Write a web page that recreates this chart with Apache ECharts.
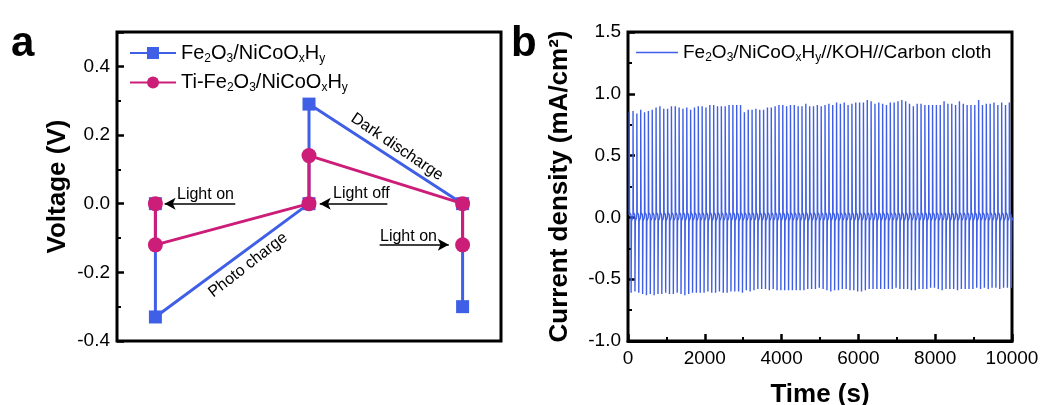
<!DOCTYPE html>
<html>
<head>
<meta charset="utf-8">
<title>photo charge / current density</title>
<script src="https://cdn.jsdelivr.net/npm/echarts@6/dist/echarts.min.js"></script>
<style>
  html, body { margin: 0; padding: 0; background: #fff; }
  #chart { width: 1041px; height: 405px; }
</style>
</head>
<body>
<div id="chart"></div>
<script>
// ---- panel a : voltage at each light step ----
const stepX = [1, 1, 2, 2, 3, 3]   // 1 = light on, 2 = light off, 3 = light on again
const fe2o3Voltage = [0.00, -0.33, 0.00, 0.29, 0.00, -0.30]
const tiFe2o3Voltage = [0.00, -0.12, 0.00, 0.14, 0.00, -0.12]
const voltageTicks = [-0.4, -0.2, 0.0, 0.2, 0.4]
const voltageMax = 0.5

// ---- panel b : peak current of every on/off cycle ----
const cyclePeriod = 100
const peakOn = [
  0.85, 0.86, 0.84, 0.87, 0.85, 0.86, 0.87, 0.89, 0.90, 0.88,
  0.88, 0.90, 0.90, 0.89, 0.88, 0.89, 0.87, 0.89, 0.90, 0.90,
  0.89, 0.91, 0.91, 0.90, 0.90, 0.90, 0.91, 0.91, 0.91, 0.91,
  0.85, 0.87, 0.87, 0.88, 0.87, 0.87, 0.89, 0.89, 0.90, 0.91,
  0.91, 0.90, 0.91, 0.91, 0.90, 0.90, 0.92, 0.90, 0.90, 0.91,
  0.90, 0.91, 0.92, 0.91, 0.93, 0.92, 0.93, 0.91, 0.92, 0.93,
  0.93, 0.93, 0.95, 0.94, 0.92, 0.93, 0.92, 0.91, 0.93, 0.93,
  0.94, 0.95, 0.94, 0.92, 0.90, 0.92, 0.92, 0.91, 0.91, 0.91,
  0.91, 0.91, 0.94, 0.92, 0.92, 0.91, 0.94, 0.92, 0.91, 0.91,
  0.91, 0.95, 0.91, 0.92, 0.92, 0.93, 0.91, 0.93, 0.91, 0.93
]
const peakOff = [
  -0.61, -0.60, -0.61, -0.62, -0.63, -0.62, -0.63, -0.62, -0.62, -0.61,
  -0.62, -0.62, -0.61, -0.62, -0.63, -0.62, -0.61, -0.61, -0.61, -0.61,
  -0.60, -0.61, -0.61, -0.60, -0.61, -0.61, -0.60, -0.60, -0.60, -0.61,
  -0.59, -0.60, -0.59, -0.58, -0.58, -0.58, -0.59, -0.58, -0.59, -0.59,
  -0.59, -0.59, -0.59, -0.59, -0.59, -0.59, -0.58, -0.58, -0.58, -0.57,
  -0.58, -0.59, -0.60, -0.59, -0.59, -0.58, -0.58, -0.59, -0.59, -0.60,
  -0.60, -0.59, -0.58, -0.58, -0.58, -0.58, -0.58, -0.58, -0.58, -0.57,
  -0.58, -0.58, -0.58, -0.59, -0.59, -0.58, -0.58, -0.58, -0.57, -0.57,
  -0.58, -0.59, -0.58, -0.58, -0.58, -0.59, -0.58, -0.58, -0.58, -0.58,
  -0.57, -0.58, -0.57, -0.58, -0.57, -0.57, -0.58, -0.57, -0.57, -0.57
]
const timeTicks = [0, 2000, 4000, 6000, 8000, 10000]
const currentTicks = [-1.0, -0.5, 0.0, 0.5, 1.0, 1.5]

const FONT = 'Arial, "Liberation Sans", sans-serif'
const BLUE = '#3f5fe6'
const PINK = '#cc1e78'

// each cycle: light on spike, decay, light off spike, decay
function buildCurrent () {
  const pts = []
  peakOn.forEach((on, i) => {
    const t = i * cyclePeriod + 30
    pts.push([t, 0.02], [t + 1, on], [t + 10, 0.04], [t + 45, 0.02])
    pts.push([t + 50, 0.0], [t + 51, peakOff[i]], [t + 60, -0.03], [t + 95, 0.0])
  })
  return pts
}

function sub (name) {
  return name.replace('Fe2O3', 'Fe{sub|2}O{sub|3}').replace('NiCoOxHy', 'NiCoO{sub|x}H{sub|y}')
}

const richSub = {
  sub: { fontSize: 12, fontFamily: FONT, padding: [11, 0, 0, 0] }
}

const chart = echarts.init(document.getElementById('chart'))

const tickLabel = () => ({ fontSize: 19, color: '#000', fontFamily: FONT })
const axisName = () => ({ fontSize: 26, fontWeight: 'bold', color: '#000', fontFamily: FONT })
const tickStyle = () => ({ show: true, inside: true, length: 7, lineStyle: { color: '#000', width: 2.5 } })
const minorStyle = () => ({ show: true, splitNumber: 2, length: 4, lineStyle: { color: '#000', width: 2 } })

chart.setOption({
  animation: false,
  textStyle: { fontFamily: FONT },
  grid: [
    { left: 117, top: 32, width: 384, height: 309, outerBoundsMode: 'none', show: true, borderColor: '#000', borderWidth: 3 },
    { left: 628, top: 32, width: 384, height: 309, outerBoundsMode: 'none', show: true, borderColor: '#000', borderWidth: 3 }
  ],
  legend: [
    {
      data: ['Fe2O3/NiCoOxHy', 'Ti-Fe2O3/NiCoOxHy'],
      orient: 'vertical', left: 124, top: 38, itemWidth: 46, itemHeight: 15, itemGap: 8,
      formatter: sub,
      textStyle: { fontSize: 20, color: '#000', fontFamily: FONT, rich: richSub }
    },
    {
      data: ['Fe2O3/NiCoOxHy//KOH//Carbon cloth'],
      left: 631, top: 38, itemWidth: 42, itemHeight: 1.5, icon: 'rect',
      formatter: sub,
      textStyle: { fontSize: 19, color: '#000', fontFamily: FONT, rich: richSub }
    }
  ],
  xAxis: [
    {
      gridIndex: 0, type: 'value', min: 0.75, max: 3.25,
      axisLine: { show: false }, axisTick: { show: false }, axisLabel: { show: false }, splitLine: { show: false }
    },
    {
      gridIndex: 1, type: 'value', position: 'bottom', min: timeTicks[0], max: timeTicks[timeTicks.length - 1], interval: 2000,
      name: 'Time (s)', nameLocation: 'middle', nameGap: 41, nameTextStyle: axisName(),
      axisLine: { show: true, onZero: false, lineStyle: { color: '#000', width: 3 } },
      axisTick: tickStyle(),
      minorTick: minorStyle(),
      axisLabel: Object.assign({ margin: 8, formatter: v => String(v) }, tickLabel()),
      splitLine: { show: false }
    }
  ],
  yAxis: [
    {
      gridIndex: 0, type: 'value', min: voltageTicks[0], max: voltageMax, interval: 0.2,
      name: 'Voltage (V)', nameLocation: 'middle', nameGap: 46, nameTextStyle: axisName(),
      axisLine: { show: false },
      axisTick: tickStyle(),
      minorTick: minorStyle(),
      axisLabel: Object.assign({ margin: 7, showMaxLabel: false, formatter: v => v.toFixed(1) }, tickLabel()),
      splitLine: { show: false }
    },
    {
      gridIndex: 1, type: 'value', min: currentTicks[0], max: currentTicks[currentTicks.length - 1], interval: 0.5,
      name: 'Current density (mA/cm²)', nameLocation: 'middle', nameGap: 55, nameTextStyle: axisName(),
      axisLine: { show: false },
      axisTick: tickStyle(),
      minorTick: minorStyle(),
      axisLabel: Object.assign({ margin: 7, formatter: v => v.toFixed(1) }, tickLabel()),
      splitLine: { show: false }
    }
  ],
  series: [
    {
      name: 'Fe2O3/NiCoOxHy', type: 'line', xAxisIndex: 0, yAxisIndex: 0,
      data: stepX.map((x, i) => [x, fe2o3Voltage[i]]),
      symbol: 'rect', symbolSize: 13, color: BLUE,
      lineStyle: { width: 3, color: BLUE }, itemStyle: { color: BLUE }
    },
    {
      name: 'Ti-Fe2O3/NiCoOxHy', type: 'line', xAxisIndex: 0, yAxisIndex: 0,
      data: stepX.map((x, i) => [x, tiFe2o3Voltage[i]]),
      symbol: 'circle', symbolSize: 15, color: PINK,
      lineStyle: { width: 3, color: PINK }, itemStyle: { color: PINK },
      markLine: {
        silent: true, symbol: ['none', 'arrow'], symbolSize: [9, 11],
        lineStyle: { color: '#000', width: 1.5, type: 'solid' },
        label: { show: false },
        data: [
          [{ coord: [1.52, 0] }, { coord: [1.06, 0] }],
          [{ coord: [2.51, 0] }, { coord: [2.07, 0] }],
          [{ coord: [2.46, -0.12] }, { coord: [2.91, -0.12] }]
        ]
      }
    },
    {
      name: 'Fe2O3/NiCoOxHy//KOH//Carbon cloth', type: 'line', xAxisIndex: 1, yAxisIndex: 1,
      data: buildCurrent(),
      symbol: 'none', color: BLUE,
      lineStyle: { width: 1.4, color: BLUE }
    }
  ],
  graphic: [
    { type: 'text', left: 11, top: 23, style: { text: 'a', font: 'bold 42px ' + FONT, fill: '#000' } },
    { type: 'text', left: 511, top: 23, style: { text: 'b', font: 'bold 42px ' + FONT, fill: '#000' } },
    { type: 'text', x: 177, y: 195, style: { text: 'Light on', font: '16px ' + FONT, fill: '#000', textVerticalAlign: 'middle' } },
    { type: 'text', x: 333, y: 194, style: { text: 'Light off', font: '16px ' + FONT, fill: '#000', textVerticalAlign: 'middle' } },
    { type: 'text', x: 380, y: 237, style: { text: 'Light on', font: '16px ' + FONT, fill: '#000', textVerticalAlign: 'middle' } },
    { type: 'text', x: 248, y: 265, rotation: 38 * Math.PI / 180, style: { text: 'Photo charge', font: '16px ' + FONT, fill: '#000', textAlign: 'center', textVerticalAlign: 'middle' } },
    { type: 'text', x: 397, y: 147, rotation: -34 * Math.PI / 180, style: { text: 'Dark discharge', font: '16px ' + FONT, fill: '#000', textAlign: 'center', textVerticalAlign: 'middle' } }
  ]
})

window.addEventListener('resize', () => {
  chart.resize()
})
</script>
</body>
</html>
